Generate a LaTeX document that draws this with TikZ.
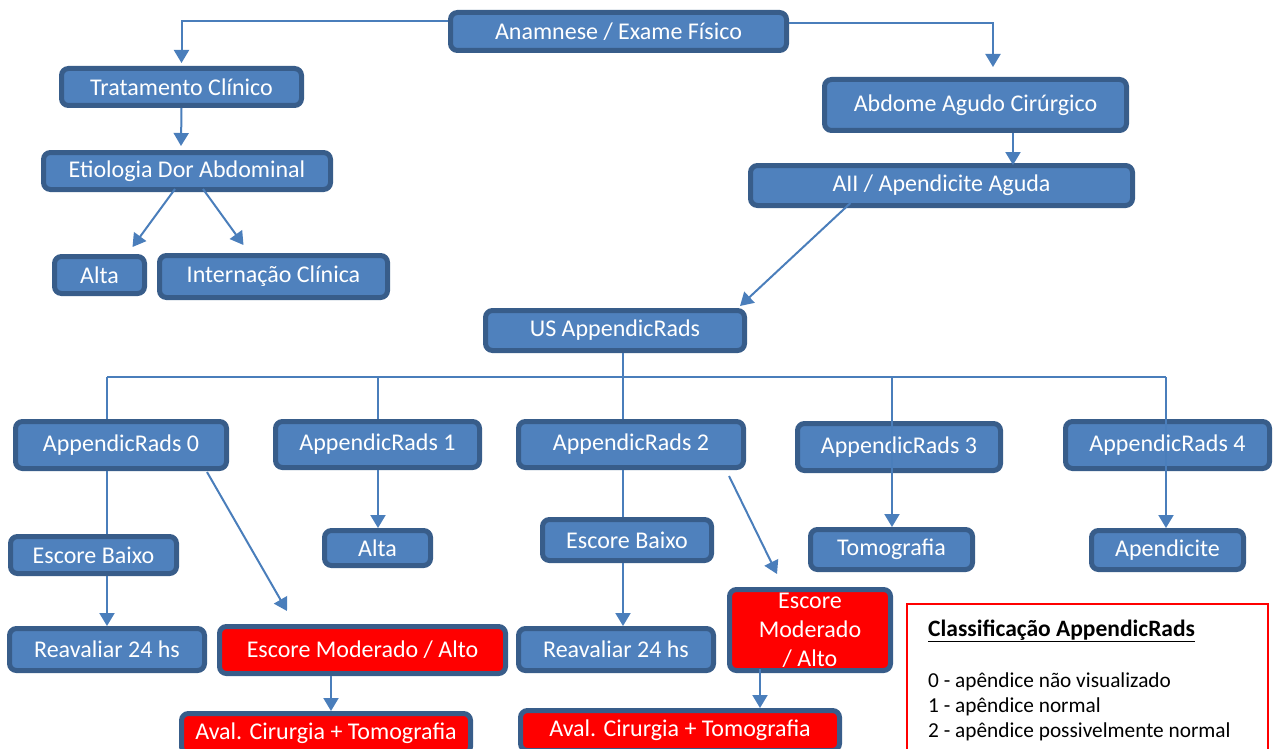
\documentclass[tikz,border=0pt]{standalone}
\usepackage{fontspec}
\setmainfont{Carlito}
\usetikzlibrary{arrows.meta}
\definecolor{fillb}{RGB}{79,129,189}
\definecolor{bdr}{RGB}{56,93,138}
\definecolor{lnc}{RGB}{74,126,187}
\definecolor{redf}{RGB}{255,0,0}
\tikzset{
  box/.style={draw=bdr, fill=fillb, line width=5pt, rounded corners=7pt, text=white,
    font=\fontsize{24}{29}\selectfont, inner sep=0pt, outer sep=2.5pt, align=center},
  redbox/.style={box, fill=redf},
  conn/.style={draw=lnc, line width=2pt},
  arr/.style={conn, -{Triangle[width=15pt,length=13pt]}},
  legtxt/.style={anchor=west, inner sep=0pt, font=\fontsize{21.3}{25}\selectfont, text=black},
}
\begin{document}
\begin{tikzpicture}[x=1pt,y=-1pt]
\useasboundingbox (0,0) rectangle (1279,749);
\clip (0,0) rectangle (1279,749);
% nodes
\node[box, minimum width=336, minimum height=38] (anam) at (618.5,31.5) {Anamnese / Exame Físico};
\node[box, minimum width=240, minimum height=37] (trat) at (181.5,87) {Tratamento Clínico};
\node[box, minimum width=287, minimum height=37] (eti) at (187,171) {Etiologia Dor Abdominal};
\node[box, minimum width=90, minimum height=37] (alta1) at (99.5,275) {Alta};
\node[box, minimum width=228, minimum height=42] (intern) at (273.5,276.5) {Internação Clínica};
\node[box, minimum width=302, minimum height=51] (abdo) at (975.5,105) {Abdome Agudo Cirúrgico};
\node[box, minimum width=382, minimum height=40] (aii) at (941.5,185.5) {AII / Apendicite Aguda};
\node[box, minimum width=259, minimum height=40] (us) at (615,330.5) {US AppendicRads};
\node[box, minimum width=211, minimum height=47] (ar0) at (121,445) {AppendicRads 0};
\node[box, minimum width=204, minimum height=46] (ar1) at (377.5,444.5) {AppendicRads 1};
\node[box, minimum width=225, minimum height=46] (ar2) at (631,444.5) {AppendicRads 2};
\node[box, minimum width=203, minimum height=47] (ar3) at (899,447) {AppendicRads 3};
\node[box, minimum width=204, minimum height=47] (ar4) at (1167.5,445) {AppendicRads 4};
\node[box, minimum width=166, minimum height=37] (eb1) at (93.5,555) {Escore Baixo};
\node[box, minimum width=106, minimum height=35] (alta2) at (377.5,548) {Alta};
\node[box, minimum width=169, minimum height=41] (eb2) at (627,540) {Escore Baixo};
\node[box, minimum width=162, minimum height=40] (tomo) at (891.5,549.5) {Tomografia};
\node[box, minimum width=152, minimum height=39] (apend) at (1167.5,550) {Apendicite};
\node[box, minimum width=195, minimum height=42] (reav1) at (107,649.5) {Reavaliar 24 hs};
\node[redbox, minimum width=286, minimum height=47] (em1) at (362.5,650) {Escore Moderado / Alto};
\node[box, minimum width=195, minimum height=42] (reav2) at (616,649.5) {Reavaliar 24 hs};
\node[redbox, minimum width=161, minimum height=81] (em2) at (810,630) {Escore\\Moderado\\/ Alto};
\node[redbox, minimum width=289, minimum height=40] (aval1) at (326,733.5) {Aval. Cirurgia + Tomografia};
\node[redbox, minimum width=319, minimum height=40] (aval2) at (680,730.5) {Aval. Cirurgia + Tomografia};
% legend
\node[draw=redf, line width=2pt, anchor=north west, minimum width=361, minimum height=170, inner sep=0pt] (legend) at (906,603) {};
\node[legtxt, font=\fontsize{23.5}{28}\selectfont] (legt) at (928,631) {\underline{\textbf{Classificação AppendicRads}}};
\node[legtxt] (leg0) at (928,682) {0 - apêndice não visualizado};
\node[legtxt] (leg1) at (928,707) {1 - apêndice normal};
\node[legtxt] (leg2) at (928,732) {2 - apêndice possivelmente normal};
% connectors top
\draw[arr] ([yshift=10pt]anam.west) -| ([xshift=0pt,yshift=3pt]trat.north);
\draw[arr] ([yshift=8pt]anam.east) -| ([xshift=17.5pt,yshift=10pt]abdo.north);
\draw[arr] (trat.south) -- ([xshift=-6pt,yshift=4pt]eti.north);
\draw[arr] ([xshift=-12pt,yshift=3pt]eti.south) -- ([xshift=33pt,yshift=7pt]alta1.north);
\draw[arr] ([xshift=16pt,yshift=3pt]eti.south) -- ([xshift=-30pt,yshift=8pt]intern.north);
\draw[arr] ([xshift=37.5pt]abdo.south) -- ([xshift=71.5pt,yshift=-2pt]aii.north);
\draw[arr] ([xshift=-91pt,yshift=5pt]aii.south) -- ([xshift=125pt,yshift=2pt]us.north);
% bus
\coordinate (b0) at (107,377);
\coordinate (b1) at (378,377);
\coordinate (b3) at (892,377);
\coordinate (b4) at (1166,377);
\draw[conn] ([xshift=8pt]us.south) -- ([xshift=-8pt]ar2.north);
\draw[conn] (b0) -- (b4);
\draw[conn] (b0) -- (b0 |- ar0.north);
\draw[conn] (b1) -- (b1 |- ar1.north);
\draw[arr] (b3) -- (b3 |- tomo.north);
\draw[arr] (b4) -- (b4 |- apend.north);
% lower connectors
\draw[conn] ([xshift=-14pt]ar0.south) -- ([xshift=13.5pt]eb1.north);
\draw[arr] ([xshift=13.5pt]eb1.south) -- (reav1.north);
\draw[arr] ([xshift=86pt,yshift=-1pt]ar0.south) -- ([xshift=-75.5pt,yshift=13pt]em1.north);
\draw[arr] ([xshift=0.5pt]ar1.south) -- ([xshift=0.5pt]alta2.north);
\draw[conn] ([xshift=-8pt]ar2.south) -- ([xshift=-4pt]eb2.north);
\draw[arr] ([xshift=-4pt]eb2.south) -- ([xshift=7pt]reav2.north);
\draw[arr] ([xshift=98pt,yshift=-6pt]ar2.south) -- ([xshift=-33pt,yshift=13pt]em2.north);
\draw[arr] ([xshift=-31.5pt]em1.south) -- ([xshift=5pt]aval1.north);
\draw[arr] ([xshift=-50pt,yshift=4pt]em2.south) -- ([xshift=80pt]aval2.north);
\end{tikzpicture}
\end{document}
